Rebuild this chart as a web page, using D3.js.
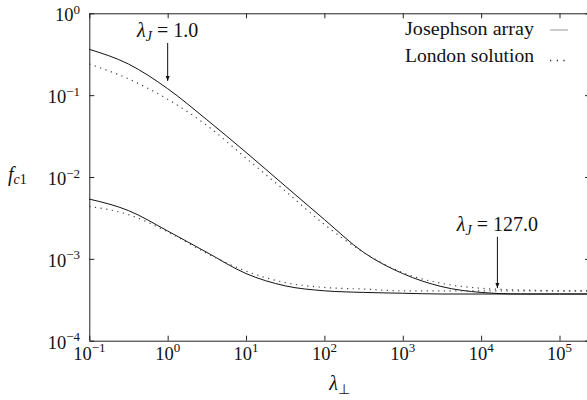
<!doctype html>
<html>
<head>
<meta charset="UTF-8">
<title>f_c1 vs lambda_perp</title>
<script src="https://cdn.jsdelivr.net/npm/d3@7"></script>
<style>
  body { margin: 0; background: #fff; }
</style>
</head>
<body>
<script>
// lambda_perp sample points (x)
var lambdaPerp = [0.1, 0.316, 1, 3.16, 10, 31.6, 100, 316, 1000, 3160, 10000, 31600, 100000, 245000];
// lambda_J = 1.0
var josephson1 = [0.363, 0.240, 0.120, 0.0501, 0.0200, 0.00776, 0.00302, 0.00120, 0.000661, 0.000457, 0.000389, 0.000372, 0.000372, 0.000372];
var london1    = [0.240, 0.158, 0.0891, 0.0427, 0.0170, 0.00676, 0.00263, 0.00120, 0.000676, 0.000501, 0.000437, 0.000417, 0.000407, 0.000407];
// lambda_J = 127.0
var josephson127 = [0.00537, 0.00389, 0.00219, 0.00120, 0.000661, 0.000468, 0.000407, 0.000389, 0.000380, 0.000372, 0.000372, 0.000372, 0.000372, 0.000372];
var london127    = [0.00437, 0.00347, 0.00214, 0.00117, 0.000708, 0.000513, 0.000447, 0.000427, 0.000407, 0.000407, 0.000407, 0.000407, 0.000407, 0.000407];

var xTicks = [1e-1, 1e0, 1e1, 1e2, 1e3, 1e4, 1e5];
var xTickExp = ["\u22121", "0", "1", "2", "3", "4", "5"];
var yTicks = [1e-4, 1e-3, 1e-2, 1e-1, 1e0];
var yTickExp = ["\u22124", "\u22123", "\u22122", "\u22121", "0"];

// annotations: label, lambda_perp of arrow, arrow top / tip in f_c1 units
var notes = [
  { label: "1.0",   at: 1,     top: 0.434,   tip: 0.149 },
  { label: "127.0", at: 16129, top: 0.00186, tip: 0.000439 }
];
var legendNames = ["Josephson array", "London solution"];

var w = 587, h = 400;
var mLeft = 89.3, mRight = 590, mTop = 13.3, mBottom = 340.7;

var svg = d3.select("body").append("svg")
  .attr("width", w).attr("height", h);

var x = d3.scaleLog().domain([0.1, 245000]).range([mLeft, mRight]);
var y = d3.scaleLog().domain([1e-4, 1]).range([mBottom, mTop]);

// frame with inward ticks on all sides
function axisStyle(g) {
  g.selectAll("path, line").attr("stroke", "#222").attr("stroke-width", 1);
  g.selectAll("text").remove();
}
svg.append("g").attr("transform", "translate(0," + mBottom + ")")
  .call(d3.axisBottom(x).tickValues(xTicks).tickSize(-5).tickSizeOuter(0)).call(axisStyle);
svg.append("g").attr("transform", "translate(0," + mTop + ")")
  .call(d3.axisTop(x).tickValues(xTicks).tickSize(-5).tickSizeOuter(0)).call(axisStyle);
svg.append("g").attr("transform", "translate(" + mLeft + ",0)")
  .call(d3.axisLeft(y).tickValues(yTicks).tickSize(-5).tickSizeOuter(0)).call(axisStyle);
svg.append("g").attr("transform", "translate(" + mRight + ",0)")
  .call(d3.axisRight(y).tickValues(yTicks).tickSize(-5).tickSizeOuter(0)).call(axisStyle);

function label(px, py, size, anchor) {
  return svg.append("text").attr("x", px).attr("y", py)
    .style("font-family", "Liberation Serif").attr("font-size", size)
    .attr("text-anchor", anchor || "start").attr("fill", "#111");
}

// tick labels 10^n
function power(sel, exp) {
  sel.append("tspan").text("10");
  sel.append("tspan").attr("dy", -7.5).attr("font-size", 13).text(exp);
}
xTicks.forEach(function (t, i) {
  power(label(x(t), mBottom + 19, 18.5, "middle"), xTickExp[i]);
});
yTicks.forEach(function (t, i) {
  power(label(80, y(t) + 8, 18.5, "end"), yTickExp[i]);
});

// axis titles
var xt = label((mLeft + mRight) / 2, 390, 20, "middle");
xt.append("tspan").attr("font-style", "italic").text("\u03bb");
xt.append("tspan").attr("dy", 4).attr("font-size", 14).text("\u22a5");

var yt = label(8, 181, 20);
yt.append("tspan").attr("font-style", "italic").text("f");
yt.append("tspan").attr("dy", 3).attr("font-size", 14).attr("font-style", "italic").text("c");
yt.append("tspan").attr("font-size", 14).text("1");

// curves
var line = d3.line()
  .x(function (d) { return x(d[0]); })
  .y(function (d) { return y(d[1]); })
  .curve(d3.curveMonotoneX);

var series = [
  { v: josephson1, dotted: false },
  { v: london1, dotted: true },
  { v: josephson127, dotted: false },
  { v: london127, dotted: true }
];
var plot = svg.append("g");
series.forEach(function (s) {
  plot.append("path")
    .datum(d3.zip(lambdaPerp, s.v))
    .attr("d", line)
    .attr("fill", "none")
    .attr("stroke", s.dotted ? "#444" : "#111")
    .attr("stroke-width", s.dotted ? 1.2 : 1)
    .attr("stroke-dasharray", s.dotted ? "1.2,4.5" : null);
});

// arrows and labels
svg.append("defs").append("marker")
  .attr("id", "head").attr("viewBox", "0 0 10 10")
  .attr("refX", 10).attr("refY", 5)
  .attr("markerWidth", 6).attr("markerHeight", 5)
  .attr("markerUnits", "userSpaceOnUse")
  .attr("orient", "auto")
  .append("path").attr("d", "M0,1L10,5L0,9Z").attr("fill", "#111");

notes.forEach(function (n) {
  svg.append("line")
    .attr("x1", x(n.at)).attr("x2", x(n.at))
    .attr("y1", y(n.top)).attr("y2", y(n.tip))
    .attr("stroke", "#111").attr("stroke-width", 1)
    .attr("marker-end", "url(#head)");
  var t = label(x(n.at), y(n.top) - 6, 20, "middle");
  t.append("tspan").attr("font-style", "italic").text("\u03bb");
  t.append("tspan").attr("dy", 4).attr("font-size", 14).attr("font-style", "italic").text("J");
  t.append("tspan").attr("dy", -4).text(" = " + n.label);
});

// legend
legendNames.forEach(function (name, i) {
  var by = 35 + i * 26.5;
  label(534, by, 18.5, "end")
    .attr("textLength", 129).attr("lengthAdjust", "spacingAndGlyphs")
    .text(name);
  svg.append("line")
    .attr("x1", 550).attr("x2", 568)
    .attr("y1", i === 0 ? by - 5 : by - 1).attr("y2", i === 0 ? by - 5 : by - 1)
    .attr("stroke", i === 0 ? "#999" : "#333")
    .attr("stroke-width", i === 0 ? 1 : 1.3)
    .attr("stroke-dasharray", i === 0 ? null : "1.3,5.4");
});
</script>
</body>
</html>
